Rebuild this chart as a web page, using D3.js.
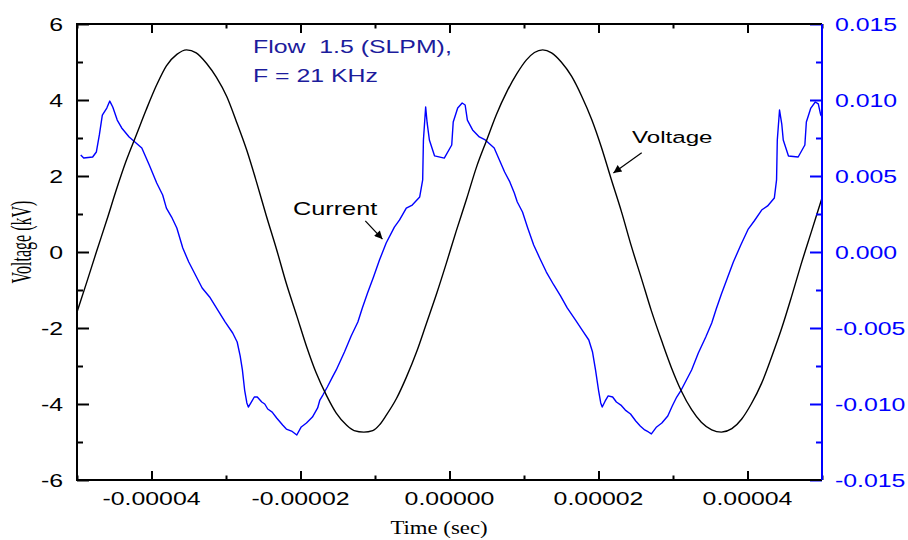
<!DOCTYPE html>
<html><head><meta charset="utf-8">
<script src="https://cdn.jsdelivr.net/npm/d3@7"></script>
<style>body{margin:0;background:#fff}</style>
</head><body>
<svg id="c" width="908" height="540"></svg>
<script>
// ---- data (time in microseconds) ----
const voltTimeUs = [-50.0,-48.7,-47.4,-46.0,-44.7,-43.4,-42.0,-40.7,-39.3,-38.0,-36.6,-35.3,-34.0,-32.6,-31.3,-29.9,-28.6,-27.2,-25.9,-24.6,-23.2,-21.9,-20.5,-19.2,-17.9,-16.5,-15.2,-13.8,-12.8,-11.5,-10.3,-9.4,-8.5,-7.1,-5.8,-4.4,-3.1,-1.7,-0.4,0.9,2.3,3.6,5.0,6.3,7.7,9.0,10.3,11.4,12.5,13.7,15.0,16.4,17.7,19.1,20.4,21.7,23.1,24.4,25.8,27.1,28.5,29.8,31.1,32.5,33.8,35.2,36.5,37.9,39.2,40.5,41.9,43.2,44.6,45.9,47.2,48.6,50.0];
const voltKV = [-1.58,-0.80,0.00,0.84,1.65,2.40,3.10,3.75,4.40,4.90,5.20,5.32,5.24,4.96,4.60,4.09,3.43,2.67,1.84,0.96,0.06,-0.83,-1.68,-2.48,-3.18,-3.78,-4.24,-4.56,-4.70,-4.74,-4.70,-4.55,-4.30,-3.85,-3.30,-2.62,-1.88,-1.08,-0.28,0.55,1.40,2.22,2.95,3.62,4.22,4.68,5.05,5.25,5.32,5.24,5.00,4.62,4.12,3.48,2.75,1.92,1.05,0.16,-0.72,-1.55,-2.35,-3.05,-3.65,-4.15,-4.48,-4.68,-4.74,-4.65,-4.40,-4.00,-3.45,-2.78,-2.00,-1.18,-0.32,0.55,1.42];

const currTimeUs = [-49.5,-49.1,-47.9,-47.4,-47.0,-46.6,-46.0,-45.6,-45.2,-44.6,-44.0,-43.0,-41.3,-40.3,-39.3,-38.5,-38.0,-37.3,-36.6,-35.8,-35.0,-34.1,-33.2,-32.2,-31.1,-30.1,-29.1,-28.5,-28.1,-27.8,-27.5,-27.2,-27.0,-26.6,-26.2,-25.8,-25.2,-24.8,-24.4,-23.8,-23.2,-22.4,-21.9,-21.2,-20.5,-19.9,-19.2,-18.4,-17.7,-17.4,-17.0,-16.4,-15.7,-15.2,-14.1,-13.2,-12.3,-11.7,-11.0,-10.2,-9.4,-8.5,-7.4,-6.7,-5.8,-5.0,-4.0,-3.6,-3.5,-3.2,-3.0,-2.7,-2.0,-0.7,0.3,0.5,1.1,1.7,2.1,2.4,3.1,4.0,4.8,6.0,6.7,7.4,8.1,8.7,9.1,9.8,10.5,11.3,12.1,13.0,14.0,14.9,15.8,16.9,17.9,18.7,19.2,19.6,20.0,20.3,20.5,20.9,21.3,21.9,22.4,23.0,23.6,24.3,25.0,25.6,26.2,26.7,27.1,27.8,28.5,29.3,29.9,30.5,31.1,31.8,32.5,33.4,34.4,35.2,35.8,36.5,37.3,38.1,39.1,40.1,40.9,41.9,42.7,43.6,43.9,44.0,44.3,44.6,44.8,45.5,46.8,47.7,47.9,48.5,49.1,49.5,49.8,49.9];
const currMA = [6.38,6.18,6.25,6.58,7.70,9.01,9.47,9.93,9.54,8.68,8.16,7.57,6.84,5.72,4.54,3.75,2.89,2.30,1.58,0.26,-0.66,-1.51,-2.37,-2.96,-3.82,-4.61,-5.33,-5.92,-6.84,-7.76,-9.08,-9.93,-10.20,-9.87,-9.54,-9.54,-9.87,-10.00,-10.33,-10.53,-10.92,-11.38,-11.65,-11.78,-12.04,-11.51,-11.25,-10.86,-10.26,-9.74,-9.41,-8.88,-8.22,-7.76,-6.58,-5.53,-4.61,-3.68,-2.70,-1.64,-0.53,0.59,1.64,2.11,2.89,3.09,3.62,4.74,7.37,9.54,8.49,7.37,6.32,6.18,7.04,8.55,9.47,9.80,9.67,8.68,8.03,7.57,7.37,6.84,6.05,5.26,4.61,3.88,3.29,2.63,1.58,0.46,-0.39,-1.32,-2.17,-2.89,-3.68,-4.47,-5.20,-5.79,-6.58,-7.76,-9.08,-9.93,-10.20,-9.80,-9.47,-9.54,-9.87,-10.07,-10.40,-10.66,-11.12,-11.45,-11.71,-11.84,-11.97,-11.51,-11.25,-10.79,-10.13,-9.54,-9.08,-8.42,-7.76,-6.64,-5.59,-4.67,-3.75,-2.76,-1.71,-0.66,0.46,1.51,2.04,2.76,3.03,3.55,4.74,7.37,9.34,8.42,7.37,6.32,6.25,7.04,8.55,9.47,9.87,9.74,9.08,8.95];

const xTickValues = [-0.00004,-0.00002,0,0.00002,0.00004];
const xTickLabels = ["-0.00004","-0.00002","0.00000","0.00002","0.00004"];
const xMinorValues = [-0.00005,-0.00003,-0.00001,0.00001,0.00003,0.00005];
const yLeftTicks = [-6,-4,-2,0,2,4,6];
const yLeftLabels = ["-6","-4","-2","0","2","4","6"];
const yLeftMinor = [-5,-3,-1,1,3,5];
const yRightTicks = [-15,-10,-5,0,5,10,15];
const yRightLabels = ["-0.015","-0.010","-0.005","0.000","0.005","0.010","0.015"];
const yRightMinor = [-12.5,-7.5,-2.5,2.5,7.5,12.5];
const legendLines = ["Flow  1.5 (SLPM),","F = 21 KHz"];

// ---- layout ----
const L=77, R=822, T=24, B=480;
const SX = 1.42; // horizontal stretch of the glyphs
const svg = d3.select("#c");
const x = d3.scaleLinear().domain([-0.00005,0.00005]).range([L,R]);
const yL = d3.scaleLinear().domain([-6,6]).range([B,T]);
const yR = d3.scaleLinear().domain([-15,15]).range([B,T]);
const US = 1e-6;
const BLUE = "#0000ff";

function stext(str, px, py, opt){
  opt = opt||{};
  return svg.append("text")
    .attr("transform",`translate(${px},${py}) scale(${opt.sx||SX},1)`)
    .attr("text-anchor",opt.anchor||"start")
    .attr("font-family",opt.family||"'Liberation Sans', Arial, sans-serif")
    .attr("font-size",opt.size||17.5)
    .attr("fill",opt.fill||"#000")
    .style("white-space","pre")
    .text(str);
}

svg.append("defs").append("clipPath").attr("id","clip")
  .append("rect").attr("x",L).attr("y",T).attr("width",R-L).attr("height",B-T);

// ---- curves ----
const vData = voltTimeUs.map((t,i)=>[t*US, voltKV[i]]);
const cData = currTimeUs.map((t,i)=>[t*US, currMA[i]]);
svg.append("path").datum(cData).attr("clip-path","url(#clip)")
  .attr("d", d3.line().x(d=>x(d[0])).y(d=>yR(d[1])))
  .attr("fill","none").attr("stroke",BLUE).attr("stroke-width",1.4).attr("stroke-linejoin","round");
svg.append("path").datum(vData).attr("clip-path","url(#clip)")
  .attr("d", d3.line().curve(d3.curveMonotoneX).x(d=>x(d[0])).y(d=>yL(d[1])))
  .attr("fill","none").attr("stroke","#000").attr("stroke-width",1.4);

// ---- axes (ticks inward) ----
const gB = svg.append("g").attr("transform",`translate(0,${B})`)
  .call(d3.axisBottom(x).tickValues(xTickValues).tickSize(-9).tickFormat(""));
const gBm = svg.append("g").attr("transform",`translate(0,${B})`)
  .call(d3.axisBottom(x).tickValues(xMinorValues).tickSize(-4.5).tickFormat(""));
const gT = svg.append("g").attr("transform",`translate(0,${T})`)
  .call(d3.axisTop(x).tickValues(xTickValues).tickSize(-9).tickFormat(""));
const gTm = svg.append("g").attr("transform",`translate(0,${T})`)
  .call(d3.axisTop(x).tickValues(xMinorValues).tickSize(-4.5).tickFormat(""));
const gL = svg.append("g").attr("transform",`translate(${L},0)`)
  .call(d3.axisLeft(yL).tickValues(yLeftTicks).tickSize(-12).tickFormat(""));
const gLm = svg.append("g").attr("transform",`translate(${L},0)`)
  .call(d3.axisLeft(yL).tickValues(yLeftMinor).tickSize(-6).tickFormat(""));
const gR = svg.append("g").attr("transform",`translate(${R},0)`)
  .call(d3.axisRight(yR).tickValues(yRightTicks).tickSize(-12).tickFormat(""));
const gRm = svg.append("g").attr("transform",`translate(${R},0)`)
  .call(d3.axisRight(yR).tickValues(yRightMinor).tickSize(-6).tickFormat(""));
[gB,gBm,gT,gTm,gL,gLm].forEach(g=>{g.select(".domain").remove(); g.selectAll("line").attr("stroke","#000").attr("stroke-width",2);});
[gR,gRm].forEach(g=>{g.select(".domain").remove(); g.selectAll("line").attr("stroke",BLUE).attr("stroke-width",2);});

// frame
svg.append("path").attr("d",`M${R},${T}H${L}V${B}H${R}`).attr("fill","none").attr("stroke","#000").attr("stroke-width",2);
svg.append("line").attr("x1",R).attr("x2",R).attr("y1",T).attr("y2",B).attr("stroke",BLUE).attr("stroke-width",2);

// tick labels
xTickValues.forEach((v,i)=> stext(xTickLabels[i], x(v), 505, {anchor:"middle"}));
yLeftTicks.forEach((v,i)=> stext(yLeftLabels[i], 63, yL(v)+6.5, {anchor:"end"}));
yRightTicks.forEach((v,i)=> stext(yRightLabels[i], 835, yR(v)+6.5, {anchor:"start", fill:BLUE}));

// axis titles
stext("Time (sec)", 439, 534, {anchor:"middle", family:"'Liberation Serif', 'Times New Roman', serif", size:19, sx:1.2});
svg.append("text")
  .attr("transform","translate(31,242) rotate(-90) scale(1,1.9)")
  .attr("text-anchor","middle")
  .attr("font-family","'Liberation Serif', 'Times New Roman', serif")
  .attr("font-size",16).text("Voltage (kV)");

// legend text
stext(legendLines[0], 253, 53, {fill:"#1c1c9c"});
stext(legendLines[1], 253, 82, {fill:"#1c1c9c"});

// annotations
const defs = svg.select("defs");
defs.append("marker").attr("id","arr").attr("viewBox","0 0 10 10").attr("refX",10).attr("refY",5)
  .attr("markerWidth",10).attr("markerHeight",8).attr("markerUnits","userSpaceOnUse").attr("orient","auto")
  .append("path").attr("d","M0,0L10,5L0,10z").attr("fill","#000");
stext("Current", 293, 215, {size:17.8});
svg.append("line").attr("x1",x(-11.3*US)).attr("y1",yL(0.82)).attr("x2",x(-9.0*US)).attr("y2",yL(0.34))
  .attr("stroke","#000").attr("stroke-width",1.2).attr("marker-end","url(#arr)");
stext("Voltage", 632, 143, {size:17});
svg.append("line").attr("x1",x(25.8*US)).attr("y1",yL(2.61)).attr("x2",x(22.0*US)).attr("y2",yL(2.08))
  .attr("stroke","#000").attr("stroke-width",1.2).attr("marker-end","url(#arr)");
</script>
</body></html>
